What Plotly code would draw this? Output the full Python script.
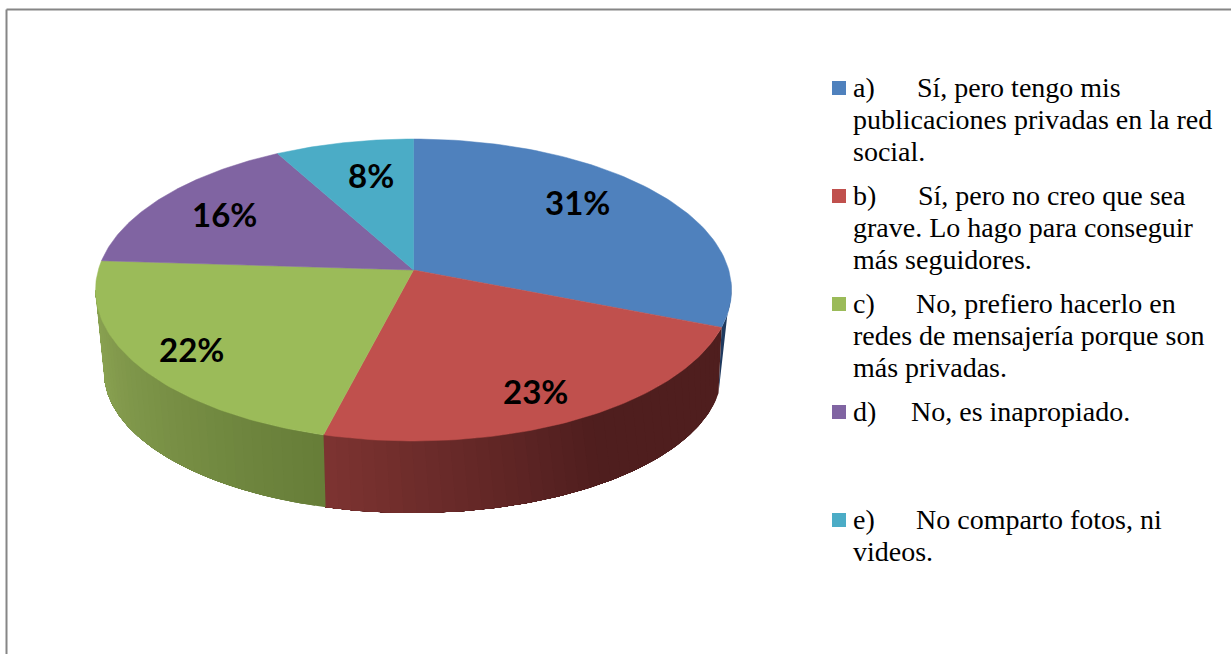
import numpy as np
import plotly.graph_objects as go

# ---- data ----
categories = ["a)", "b)", "c)", "d)", "e)"]
values = [31, 23, 22, 16, 8]
colors = ["#4f81bd", "#c0504d", "#9bbb59", "#8064a2", "#4bacc6"]
legend_first = ["Sí, pero tengo mis", "Sí, pero no creo que sea", "No, prefiero hacerlo en",
                "No, es inapropiado.", "No comparto fotos, ni"]
legend_rest = [["publicaciones privadas en la red", "social."],
               ["grave. Lo hago para conseguir", "más seguidores."],
               ["redes de mensajería porque son", "más privadas."],
               [],
               ["videos."]]

# ---- layout constants (pixels) ----
W, H = 1231, 654
CX, CY, RX, RY, K = 413.5, 290, 318, 151, 0.1325
BCX, BCY, BRX, BRY = 413, 372, 309, 141
DELTA = 5.7
legend_y = [88, 196, 304, 412, 520]
legend_gap_x = [915, 916, 914, 909, 914]
label_pos = [(577, 202), (535, 391), (191, 349), (224, 214), (371, 175)]
LINE = 32
SERIF = "Liberation Serif"
FS = 28
TEXT_DY = -1


def rim(theta):
    x, y = np.sin(theta), np.cos(theta)
    d = 1 + K * y
    return x * np.sqrt(1 - K * K) / d, (y + K) / d


def phi_of(theta):
    xp, yp = rim(theta)
    return np.degrees(np.arctan2(-yp, xp))


def strip(a, b, phi_rb, phi_rg):
    def top(p):
        r = np.radians(p)
        return CX + RX * np.cos(r), CY + RY * np.sin(r)

    def bot(p):
        p = max(p, phi_rb)
        q = p - DELTA * np.clip((phi_rg - p) / (phi_rg - phi_rb), 0, 1)
        r = np.radians(q)
        return BCX + BRX * np.cos(r), BCY + BRY * np.sin(r)

    ps = np.linspace(a, b, max(3, int((b - a) * 2)))
    t = [top(p) for p in ps]
    o = [bot(p) for p in ps[::-1]]
    pts = t + o + [t[0]]
    return [p[0] for p in pts], [p[1] for p in pts]


def mix(c1, c2, u):
    c = [round(c1[i] + (c2[i] - c1[i]) * u) for i in range(3)]
    return f"rgb({c[0]},{c[1]},{c[2]})"


fig = go.Figure()
cum = np.cumsum([0] + values) / sum(values) * 2 * np.pi
phi_rb = phi_of(cum[1])
phi_rg = phi_of(cum[2])

# side wall: painted back to front, each band reaching to the end of its slice
side_spec = [
    (-3.0, phi_rb, (31, 58, 95), (31, 58, 95), 1.0, 1),
    (phi_rb, phi_rg, (79, 30, 30), (125, 51, 49), 0.55, 40),
    (phi_rg, 180.0, (102, 125, 56), (141, 165, 84), 1.0, 36),
]
for a, b, c_right, c_left, frac, n in side_spec:
    edges = np.linspace(a, b, n + 1)
    for i in range(n):
        u = (i + 0.5) / n
        v = np.clip((u - (1 - frac)) / frac, 0, 1)
        col = mix(c_right, c_left, v)
        xs, ys = strip(edges[i], b, phi_rb, phi_rg)
        fig.add_trace(go.Scatter(x=xs, y=ys, mode="lines", fill="toself", fillcolor=col,
                                 line=dict(color=col, width=0), hoverinfo="skip",
                                 showlegend=False))

# top face wedges
for i, name in enumerate(categories):
    th = np.linspace(cum[i], cum[i + 1], 80)
    xp, yp = rim(th)
    xs = [CX] + list(CX + RX * xp) + [CX]
    ys = [CY - RY * K] + list(CY - RY * yp) + [CY - RY * K]
    fig.add_trace(go.Scatter(x=xs, y=ys, mode="lines", fill="toself", fillcolor=colors[i],
                             line=dict(color=colors[i], width=0.5), name=name,
                             hovertext=f"{name} {values[i]}%", hoverinfo="text",
                             showlegend=False))

annotations = []
for i, v in enumerate(values):
    annotations.append(dict(x=label_pos[i][0], y=label_pos[i][1], text=f"{v}%", showarrow=False,
                            xanchor="center", yanchor="middle",
                            font=dict(family="Lato", size=33, color="black", weight="bold")))

# legend
fig.add_trace(go.Scatter(x=[839] * 5, y=legend_y, mode="markers",
                         marker=dict(symbol="square", size=14, color=colors, line=dict(width=0)),
                         hoverinfo="skip", showlegend=False))


def text(x, y, s):
    annotations.append(dict(x=x, y=y + TEXT_DY, text=s, showarrow=False, xanchor="left",
                            yanchor="middle", font=dict(family=SERIF, size=FS, color="black")))


for i, name in enumerate(categories):
    text(851, legend_y[i], name)
    text(legend_gap_x[i], legend_y[i], legend_first[i])
    for j, s in enumerate(legend_rest[i]):
        text(851, legend_y[i] + LINE * (j + 1), s)

fig.update_layout(
    width=W, height=H, margin=dict(l=0, r=0, t=0, b=0),
    paper_bgcolor="white", plot_bgcolor="white", showlegend=False,
    xaxis=dict(range=[0, W], visible=False, fixedrange=True),
    yaxis=dict(range=[H, 0], visible=False, fixedrange=True),
    annotations=annotations,
    shapes=[
        dict(type="line", x0=6.5, x1=6.5, y0=9.5, y1=H, line=dict(color="#868686", width=2)),
        dict(type="line", x0=6.5, x1=W, y0=9.5, y1=9.5, line=dict(color="#868686", width=2)),
    ],
)
fig.write_html("out.html", config={"displayModeBar": False},
               post_script="document.body.style.margin='0';document.body.style.overflow='hidden';")
